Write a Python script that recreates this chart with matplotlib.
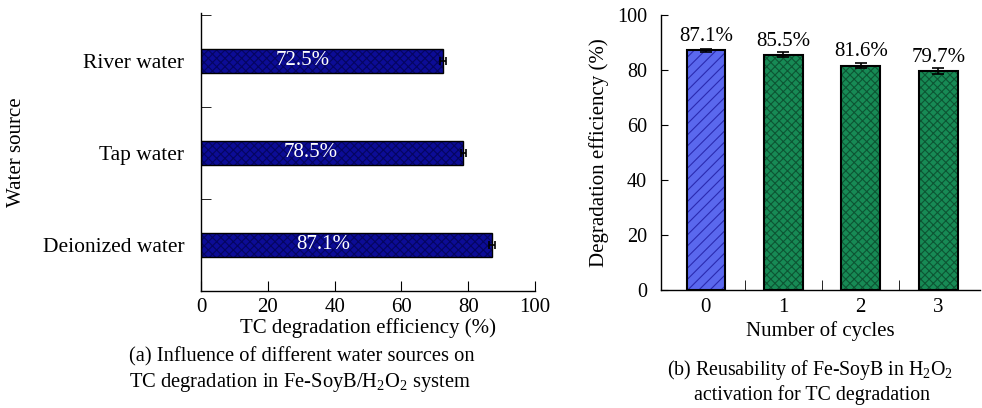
import numpy as np
import matplotlib.pyplot as plt
from matplotlib.ticker import FixedLocator

plt.rcParams['font.family'] = ['Liberation Serif', 'DejaVu Serif']
plt.rcParams['mathtext.fontset'] = 'custom'
plt.rcParams['mathtext.rm'] = 'Liberation Serif'
plt.rcParams['axes.linewidth'] = 1.0
plt.rcParams['hatch.linewidth'] = 0.8

# (a) water sources
sources = ['Deionized water', 'Tap water', 'River water']
src_eff = [87.1, 78.5, 72.5]
src_err = [1.0, 0.8, 0.9]
src_labels = ['87.1%', '78.5%', '72.5%']

# (b) reuse cycles
cycles = [0, 1, 2, 3]
cyc_eff = [87.1, 85.5, 81.6, 79.7]
cyc_err = [0.7, 0.9, 0.8, 1.2]
cyc_labels = ['87.1%', '85.5%', '81.6%', '79.7%']

fig = plt.figure(figsize=(9.82, 4.08), dpi=100)

# ---- left panel
ax1 = fig.add_axes([201/982, 1-291/408, 334/982, 278/408])
ypos = np.arange(len(sources))
ax1.barh(ypos, src_eff, height=0.26, color='#0c0c96', edgecolor='#050560',
         hatch='xxxx', linewidth=0)
ax1.barh(ypos, src_eff, height=0.26, fill=False, edgecolor='black',
         linewidth=1.0, xerr=src_err, capsize=3,
         error_kw=dict(ecolor='black', elinewidth=1.2, capthick=1.2))
for y, v, s in zip(ypos, src_eff, src_labels):
    ax1.text(v*0.42, y, s, color='white', ha='center', va='center', fontsize=15)
ax1.set_xlim(0, 100)
ax1.set_ylim(-0.5, 2.52)
ax1.set_xticks([0, 20, 40, 60, 80, 100])
ax1.set_yticks(ypos)
ax1.set_yticklabels(sources)
ax1.yaxis.set_minor_locator(FixedLocator([0.5, 1.5, 2.5]))
ax1.tick_params(axis='y', which='major', length=0, pad=12, labelsize=15.5)
ax1.tick_params(axis='y', which='minor', direction='in', length=7)
ax1.tick_params(axis='x', direction='in', length=7, labelsize=15, pad=5)
ax1.spines['top'].set_visible(False)
ax1.spines['right'].set_visible(False)
ax1.set_xlabel('TC degradation efficiency (%)', fontsize=15, labelpad=1)
ax1.set_ylabel('Water source', fontsize=15, labelpad=12)

# ---- right panel
ax2 = fig.add_axes([661/982, 1-290/408, 319/982, 275/408])
ax2.bar(cycles[:1], cyc_eff[:1], width=0.5, color='#5a68ee', edgecolor='#2a2ab0',
        hatch='///', linewidth=0)
ax2.bar(cycles[1:], cyc_eff[1:], width=0.5, color='#178a55', edgecolor='#0d5533',
        hatch='xxxx', linewidth=0)
ax2.bar(cycles, cyc_eff, width=0.5, fill=False, edgecolor='black', linewidth=1.5,
        yerr=cyc_err, capsize=4,
        error_kw=dict(ecolor='black', elinewidth=1.2, capthick=1.2))
for x, v, s in zip(cycles, cyc_eff, cyc_labels):
    ax2.text(x, v + 1.5, s, ha='center', va='bottom', fontsize=15)
ax2.set_xlim(-0.58, 3.54)
ax2.set_ylim(0, 100)
ax2.set_xticks(cycles)
ax2.xaxis.set_minor_locator(FixedLocator([0.5, 1.5, 2.5]))
ax2.tick_params(axis='x', which='major', length=0, pad=6, labelsize=15)
ax2.tick_params(axis='x', which='minor', direction='in', length=7)
ax2.tick_params(axis='y', direction='in', length=5, labelsize=14.5, pad=10)
ax2.spines['top'].set_visible(False)
ax2.spines['right'].set_visible(False)
ax2.set_xlabel('Number of cycles', fontsize=15, labelpad=3)
ax2.set_ylabel('Degradation efficiency (%)', fontsize=15, labelpad=6)

# captions
fig.text(302/982, 1-357/408, '(a) Influence of different water sources on',
         ha='center', va='center', fontsize=14.8)
fig.text(300/982, 1-383/408, r'TC degradation in Fe-SoyB/H$_2$O$_2$ system',
         ha='center', va='center', fontsize=14.8)
fig.text(810/982, 1-370/408, r'(b) Reusability of Fe-SoyB in H$_2$O$_2$',
         ha='center', va='center', fontsize=14.3)
fig.text(812/982, 1-395/408, 'activation for TC degradation',
         ha='center', va='center', fontsize=14.3)

fig.savefig('out.png', dpi=100)
